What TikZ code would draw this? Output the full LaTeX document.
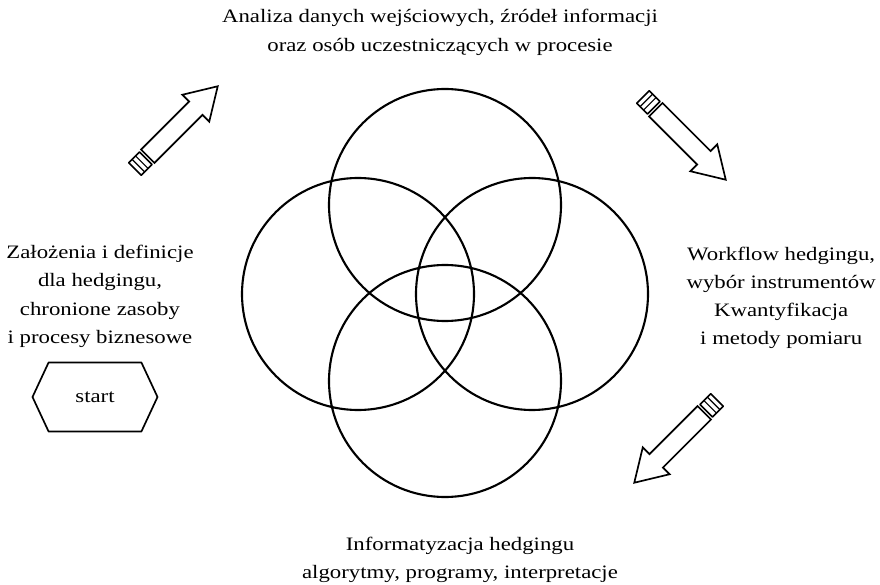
\documentclass[tikz,border=0pt]{standalone}
\usepackage{fontspec}
\setmainfont{Liberation Serif}[FakeStretch=1.2]
\usetikzlibrary{shapes.symbols}

\tikzset{
  label text/.style={align=center, font=\fontsize{13.5}{20}\selectfont},
  ring/.style={line width=1.5pt},
  pencil/.pic={
    \draw[line width=1.2pt, line join=miter]
      (0.45,0.2375) -- (2.15,0.2375) -- (2.15,0.475) -- (2.925,0)
      -- (2.15,-0.475) -- (2.15,-0.2375) -- (0.45,-0.2375) -- cycle;
    \draw[line width=1.1pt] (0,-0.22) rectangle (0.38,0.22);
    \draw[line width=0.8pt] (0.12,-0.22) -- (0.12,0.22) (0.24,-0.22) -- (0.24,0.22);
  }
}

\begin{document}
\begin{tikzpicture}[line join=round, line cap=round]
  \useasboundingbox (0,0) rectangle (22,14.6);
  \coordinate (ringN) at (11.125,9.475);
  \coordinate (ringW) at (8.95,7.25);
  \coordinate (ringE) at (13.3,7.25);
  \coordinate (ringS) at (11.125,5.075);
  \draw[ring] (ringN) circle (2.9) (ringW) circle (2.9)
              (ringE) circle (2.9) (ringS) circle (2.9);

  \node[label text] (inputs) at (11.0,13.79)
    {Analiza danych wejściowych, źródeł informacji\\oraz osób uczestniczących w procesie};
  \node[label text] (assumptions) at (2.5,7.19)
    {Założenia i definicje\\dla hedgingu,\\chronione zasoby\\i procesy biznesowe};
  \node[label text] (workflow) at (19.53,7.15)
    {Workflow hedgingu,\\wybór instrumentów\\Kwantyfikacja\\i metody pomiaru};
  \node[label text] (software) at (11.5,0.61)
    {Informatyzacja hedgingu\\algorytmy, programy, interpretacje};
  \node[draw, line width=1.2pt, signal, signal to=west and east, signal pointer angle=130,
        minimum width=3.125cm, minimum height=1.725cm, font=\fontsize{13.5}{16}\selectfont]
    (start) at (2.375,4.675) {start};

  \coordinate (tailNW) at (3.375,10.375);
  \coordinate (tailNE) at (16.075,12.175);
  \coordinate (tailSE) at (17.925,4.6);
  \pic[rotate=45] at (tailNW) {pencil};
  \pic[rotate=-45] at (tailNE) {pencil};
  \pic[rotate=225] at (tailSE) {pencil};
\end{tikzpicture}
\end{document}
